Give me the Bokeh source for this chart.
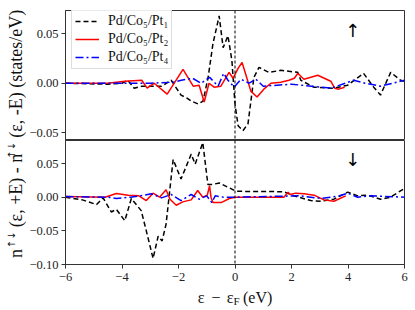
import math
from bokeh.plotting import figure
from bokeh.models import Range1d, Span, Label, Legend, LegendItem, FixedTicker, CustomJSTickFormatter
from bokeh.layouts import row, column
from bokeh.embed import file_html
from bokeh.resources import INLINE

# ---------------- data ----------------
series_names = ["Pd/Co₅/Pt₁", "Pd/Co₅/Pt₂", "Pd/Co₅/Pt₄"]

# upper panel: spin up
up_pt1_x = [-6.0, -4.5, -4.0, -3.8, -3.57, -3.3, -2.6, -2.26, -1.91, -1.7, -1.55, -1.31, -1.13, -0.95,
            -0.78, -0.56, -0.42, -0.25, -0.11, 0.0, 0.11, 0.28, 0.46, 0.67, 0.85, 1.2, 1.62, 2.22, 2.33,
            2.79, 3.49, 3.99, 4.55, 4.91, 5.15, 5.51, 5.86, 6.0]
up_pt1_y = [0.0, -0.001, 0.0, 0.003, -0.005, -0.003, -0.003, 0.003, -0.012, -0.015, -0.018, -0.021, -0.018,
            0.006, 0.040, 0.068, 0.036, 0.048, 0.023, -0.021, -0.043, -0.048, -0.041, 0.006, 0.016, 0.011,
            0.013, 0.011, 0.003, -0.004, -0.005, -0.002, 0.010, -0.004, -0.012, 0.011, 0.003, 0.002]

up_pt2_x = [-6.0, -4.5, -3.9, -3.3, -3.11, -2.86, -2.40, -1.84, -1.48, -1.27, -1.09, -0.92, -0.74, -0.5,
            -0.21, -0.07, 0.11, 0.25, 0.39, 0.56, 0.78, 1.02, 1.27, 1.62, 1.91, 2.1, 2.22, 2.44, 2.93,
            3.39, 3.53, 3.67, 3.88]
up_pt2_y = [0.0, 0.0, 0.002, 0.003, -0.005, 0.0, -0.011, 0.014, -0.003, -0.002, -0.019, 0.0, -0.004, -0.003,
            0.011, 0.005, 0.015, 0.021, 0.008, -0.008, -0.014, -0.006, 0.0, 0.001, 0.003, 0.005, 0.010,
            0.004, 0.008, 0.002, -0.005, -0.006, -0.004]

up_pt4_x = [-6.0, -3.0, -2.2, -1.9, -1.5, -1.2, -0.9, -0.6, -0.4, -0.25, -0.03, 0.21, 0.5, 0.74, 1.0,
            2.0, 3.4, 4.2, 4.6, 5.15, 6.0]
up_pt4_y = [0.0, 0.0, 0.001, 0.003, 0.005, 0.0, 0.006, -0.003, 0.010, 0.003, -0.004, 0.004, 0.0, 0.004,
            -0.003, -0.001, -0.005, 0.003, 0.0, -0.003, 0.003]

# lower panel: spin down
dn_pt1_x = [-6.0, -5.4, -4.9, -4.67, -4.38, -4.2, -3.9, -3.67, -3.32, -3.14, -2.9, -2.72, -2.58, -2.44,
            -2.19, -1.91, -1.55, -1.41, -1.14, -0.96, -0.8, -0.55, -0.21, 0.03, 0.45, 1.2, 1.73, 2.05,
            2.68, 3.04, 3.5, 3.99, 4.34, 4.69, 5.15, 5.5, 6.0]
dn_pt1_y = [0.0, -0.004, -0.011, -0.001, -0.022, -0.018, -0.035, -0.002, -0.02, -0.05, -0.091, -0.058,
            -0.065, -0.04, 0.056, 0.027, 0.064, 0.049, 0.081, 0.019, 0.019, 0.021, 0.014, 0.009, 0.0085,
            0.0085, 0.008, 0.0025, -0.005, -0.006, -0.003, 0.0075, 0.002, 0.003, -0.003, 0.0, 0.013]

dn_pt2_x = [-6.0, -4.6, -4.2, -3.78, -3.4, -3.14, -2.9, -2.67, -2.44, -2.3, -2.08, -1.85, -1.55, -1.32,
            -1.14, -0.98, -0.9, -0.85, -0.78, -0.49, -0.2, 0.0, 1.73, 1.88, 1.95, 2.15, 2.45, 2.8, 3.15,
            3.5, 3.92]
dn_pt2_y = [0.001, 0.0, 0.0055, 0.003, 0.002, -0.005, 0.006, 0.0, 0.011, -0.003, -0.012, -0.007, -0.004,
            0.01, 0.0, 0.003, 0.017, 0.0, -0.008, -0.008, -0.002, 0.0, 0.0, 0.0075, 0.004, 0.006, 0.005,
            0.003, -0.004, -0.006, 0.002]

dn_pt4_x = [-6.0, -4.5, -4.2, -3.7, -3.2, -2.96, -2.6, -2.26, -1.91, -1.55, -1.27, -1.0, -0.82, -0.7,
            -0.4, 0.0, 2.3, 3.04, 3.7, 3.99, 4.34, 4.8, 6.0]
dn_pt4_y = [0.001, 0.0, -0.002, 0.0, 0.003, 0.005, -0.001, 0.004, -0.005, 0.004, -0.003, 0.002, -0.008,
            0.002, 0.0, 0.0, 0.002, -0.002, 0.002, 0.006, 0.0, 0.002, 0.0]

x_ticks = [-6, -4, -2, 0, 2, 4, 6]
up_y_ticks = [-0.05, 0.0, 0.05]
dn_y_ticks = [-0.10, -0.05, 0.0, 0.05]

# ---------------- styling ----------------
FONT = "Liberation Serif"
ARROW_FONT = "DejaVu Sans"
TXT = "#111111"
colors = ["#000000", "#ff0000", "#0000ff"]
dashes = ["5 3", "solid", "8 3 2 3"]
x_range = Range1d(-6, 6)
LEFT, RIGHT = 38, 9

fmt_y = CustomJSTickFormatter(code="return tick.toFixed(2).replace('-', '\u2212');")
fmt_x = CustomJSTickFormatter(code="return tick.toFixed(0).replace('-', '\u2212');")


def style_axis(ax, ticks, fmt, standoff):
    ax.ticker = FixedTicker(ticks=ticks)
    ax.formatter = fmt
    ax.major_label_text_font = FONT
    ax.major_label_text_font_size = "12.5px"
    ax.major_label_text_color = "#222222"
    ax.major_tick_out = 4
    ax.major_tick_in = 0
    ax.minor_tick_out = 0
    ax.minor_tick_in = 0
    ax.major_label_standoff = standoff
    ax.axis_line_color = "#333333"
    ax.major_tick_line_color = "#333333"


def style_fig(p):
    p.outline_line_color = "#333333"
    p.outline_line_width = 1
    p.grid.visible = False
    p.background_fill_color = "white"
    p.border_fill_color = "white"


p1 = figure(width=387, height=140, x_range=x_range, y_range=Range1d(-0.0579, 0.0735),
            output_backend="svg", toolbar_location=None, x_axis_location=None,
            min_border_left=LEFT, min_border_right=RIGHT, min_border_top=10, min_border_bottom=0)
p2 = figure(width=387, height=146, x_range=x_range, y_range=Range1d(-0.10, 0.0842),
            output_backend="svg", toolbar_location=None,
            min_border_left=LEFT, min_border_right=RIGHT, min_border_top=0, min_border_bottom=22)
style_fig(p1)
style_fig(p2)
style_axis(p1.yaxis[0], up_y_ticks, fmt_y, 3)
style_axis(p2.yaxis[0], dn_y_ticks, fmt_y, 3)
style_axis(p2.xaxis[0], x_ticks, fmt_x, 4)

up_data = [(up_pt1_x, up_pt1_y), (up_pt2_x, up_pt2_y), (up_pt4_x, up_pt4_y)]
dn_data = [(dn_pt1_x, dn_pt1_y), (dn_pt2_x, dn_pt2_y), (dn_pt4_x, dn_pt4_y)]

legend_items = []
for i, (xs, ys) in enumerate(up_data):
    r = p1.line(xs, ys, line_color=colors[i], line_width=1.5, line_dash=dashes[i])
    legend_items.append(LegendItem(label=series_names[i], renderers=[r]))
for i, (xs, ys) in enumerate(dn_data):
    p2.line(xs, ys, line_color=colors[i], line_width=1.5, line_dash=dashes[i])

for p in (p1, p2):
    p.add_layout(Span(location=0, dimension="height", line_color="black", line_width=1, line_dash="3 2"))

legend = Legend(items=legend_items, location=(6, 71), margin=0, padding=3, spacing=2,
                label_height=16, glyph_height=16, glyph_width=24, label_standoff=9,
                label_text_font=FONT, label_text_font_size="14px", label_text_color=TXT,
                border_line_color="#bbbbbb", border_line_width=1,
                background_fill_color="white", background_fill_alpha=0.9)
p1.add_layout(legend, "center")

p1.add_layout(Label(x=4.17, y=0.053, text="↑", text_font=ARROW_FONT, text_font_size="18px",
                    text_color="black", text_align="center", text_baseline="middle"))
p2.add_layout(Label(x=4.17, y=0.056, text="↓", text_font=ARROW_FONT, text_font_size="18px",
                    text_color="black", text_align="center", text_baseline="middle"))

# x-axis label strip (shares the x range, so x = 0 lines up with the tick "0"):  ε − ε_F (eV)
xlab = figure(width=387, height=22, x_range=x_range, y_range=Range1d(0, 22),
              output_backend="svg", toolbar_location=None, x_axis_location=None, y_axis_location=None,
              min_border_left=LEFT, min_border_right=RIGHT, min_border_top=0, min_border_bottom=0,
              outline_line_color=None)
xlab.grid.visible = False
xparts = [("ε", -34, 11, 16, "center"), ("−", -19, 11, 16, "center"), ("ε", -5, 11, 16, "center"),
          ("F", 1.5, 8, 11, "center"), ("(eV)", 8, 11, 16, "left")]
for txt, dx, yy, fs, al in xparts:
    xlab.add_layout(Label(x=0, y=yy, x_offset=dx, text=txt, text_font=FONT, text_font_size=f"{fs}px",
                          text_color=TXT, text_align=al, text_baseline="middle"))

# y-axis label strip spanning both panels
lab = figure(width=26, height=308, x_range=Range1d(0, 26), y_range=Range1d(0, 308),
             output_backend="svg", toolbar_location=None, x_axis_location=None, y_axis_location=None,
             min_border=0, outline_line_color=None)
lab.grid.visible = False
big, sup = 18, 10
# (text, font, size, x shift, width in em)
pieces = [("n", FONT, big, 0, 0.5), ("↑↓", ARROW_FONT, sup, -4.5, 1.676), ("(ε, +E) - n", FONT, big, 0, 3.95),
          ("↑↓", ARROW_FONT, sup, -4.5, 1.676), ("(ε, -E) (states/eV)", FONT, big, 0, 7.12)]
gaps = [0, 1, 0.3 * big, 1, 0.3 * big]
scale = 0.95
total = sum((w * s + g) * scale for (_, _, s, _, w), g in zip(pieces, gaps))
ypos = 171.5 - total / 2
for (txt, font, size, dx, w), g in zip(pieces, gaps):
    ypos += g * scale
    lab.add_layout(Label(x=15 + dx, y=ypos, text=txt, angle=math.pi / 2, text_font=font,
                         text_font_size=f"{size}px", text_color=TXT,
                         text_align="left", text_baseline="middle"))
    ypos += w * size * scale

layout = row(lab, column(p1, p2, xlab, spacing=0), spacing=0)
open("out.html", "w").write(file_html(layout, INLINE))
